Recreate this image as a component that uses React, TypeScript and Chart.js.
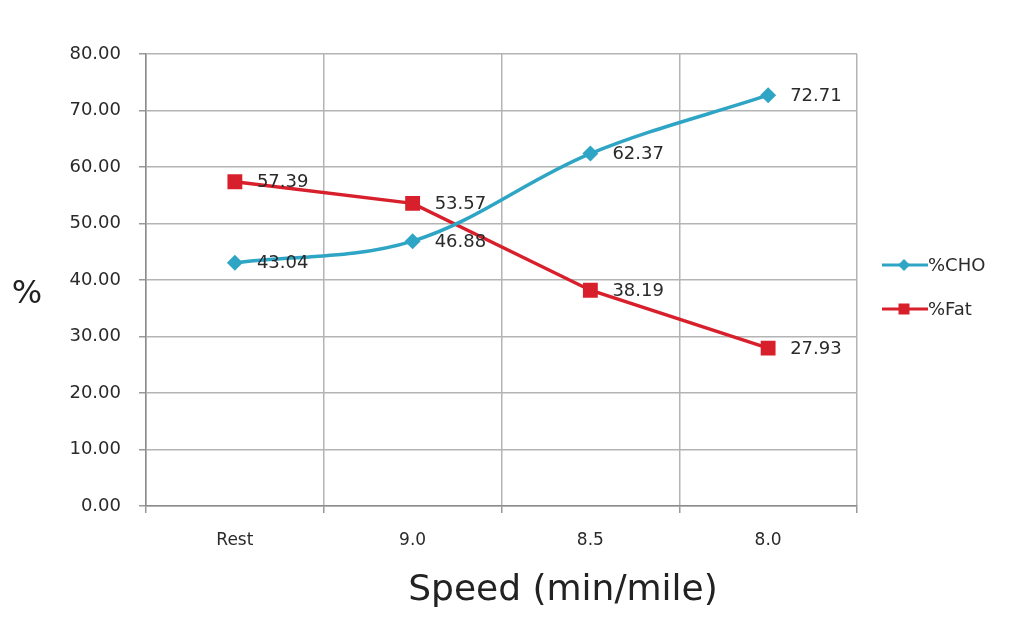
import React, { useEffect, useRef } from "react";
import { Chart, registerables } from "chart.js";

Chart.register(...registerables);

const categories = ["Rest", "9.0", "8.5", "8.0"];
const choValues = [43.04, 46.88, 62.37, 72.71];
const fatValues = [57.39, 53.57, 38.19, 27.93];
const seriesNames = ["%CHO", "%Fat"];
const yTitle = "%";
const xTitle = "Speed (min/mile)";

const CHO_COLOR = "#2fa5c5";
const FAT_COLOR = "#d8202c";
const FONT = "'DejaVu Sans', sans-serif";

export default function App() {
  const ref = useRef<HTMLCanvasElement | null>(null);

  useEffect(() => {
    const canvas = ref.current;
    if (!canvas) return;

    const labelsPlugin = {
      id: "customText",
      afterDatasetsDraw(chart: any) {
        const ctx = chart.ctx as CanvasRenderingContext2D;
        ctx.save();
        ctx.font = `18px ${FONT}`;
        ctx.fillStyle = "#2a2a2a";
        ctx.textAlign = "left";
        ctx.textBaseline = "middle";
        chart.data.datasets.forEach((ds: any, i: number) => {
          const meta = chart.getDatasetMeta(i);
          meta.data.forEach((pt: any, j: number) => {
            const v = ds.data[j] as number;
            ctx.fillText(v.toFixed(2), pt.x + 22, pt.y + 1);
          });
        });
        ctx.restore();
      },
      afterDraw(chart: any) {
        const ctx = chart.ctx as CanvasRenderingContext2D;
        ctx.save();
        ctx.fillStyle = "#222222";
        ctx.textAlign = "center";
        ctx.textBaseline = "middle";
        ctx.font = `32px ${FONT}`;
        ctx.fillText(yTitle, 27, 295);
        ctx.font = `36px ${FONT}`;
        ctx.fillText(xTitle, 563, 591);

        const entries = [
          { name: seriesNames[0], color: CHO_COLOR, style: "diamond", y: 265 },
          { name: seriesNames[1], color: FAT_COLOR, style: "square", y: 309 },
        ];
        entries.forEach((e) => {
          ctx.strokeStyle = e.color;
          ctx.lineWidth = 3;
          ctx.beginPath();
          ctx.moveTo(882, e.y);
          ctx.lineTo(928, e.y);
          ctx.stroke();
          ctx.fillStyle = e.color;
          ctx.beginPath();
          if (e.style === "diamond") {
            ctx.moveTo(904, e.y - 6);
            ctx.lineTo(910, e.y);
            ctx.lineTo(904, e.y + 6);
            ctx.lineTo(898, e.y);
            ctx.closePath();
          } else {
            ctx.rect(898.5, e.y - 5.5, 11, 11);
          }
          ctx.fill();
          ctx.fillStyle = "#2a2a2a";
          ctx.font = `18px ${FONT}`;
          ctx.textAlign = "left";
          ctx.fillText(e.name, 928, e.y + 1);
        });
        ctx.restore();
      },
    };

    const chart = new Chart(canvas, {
      type: "line",
      data: {
        labels: categories,
        datasets: [
          {
            label: seriesNames[0],
            data: choValues,
            borderColor: CHO_COLOR,
            backgroundColor: CHO_COLOR,
            borderWidth: 3.5,
            tension: 0.35,
            pointStyle: "rectRot",
            pointRadius: 8,
            pointBorderWidth: 0,
          },
          {
            label: seriesNames[1],
            data: fatValues,
            borderColor: FAT_COLOR,
            backgroundColor: FAT_COLOR,
            borderWidth: 3.5,
            tension: 0,
            pointStyle: "rect",
            pointRadius: 10.5,
            pointBorderWidth: 0,
          },
        ],
      },
      options: {
        animation: false,
        responsive: false,
        maintainAspectRatio: false,
        layout: { padding: { top: 54, right: 167, bottom: 0, left: 0 } },
        plugins: {
          legend: { display: false },
          tooltip: { enabled: false },
          title: { display: false },
        },
        scales: {
          x: {
            type: "category",
            offset: true,
            grid: {
              offset: true,
              color: "#b4b4b4",
              lineWidth: 1.5,
              tickLength: 7,
              tickColor: "#999999",
            },
            border: { color: "#8c8c8c", width: 1.5 },
            ticks: {
              color: "#2a2a2a",
              font: { family: FONT, size: 17 },
              padding: 17,
              maxRotation: 0,
            },
            afterFit(scale: any) {
              scale.height = 127;
            },
          },
          y: {
            min: 0,
            max: 80,
            grid: {
              color: "#b4b4b4",
              lineWidth: 1.5,
              tickLength: 7,
              tickColor: "#999999",
            },
            border: { color: "#8c8c8c", width: 1.5 },
            ticks: {
              stepSize: 10,
              color: "#2a2a2a",
              font: { family: FONT, size: 18 },
              padding: 18,
              callback: (v: any) => Number(v).toFixed(2),
            },
            afterFit(scale: any) {
              scale.width = 146;
            },
          },
        },
      },
      plugins: [labelsPlugin],
    });

    return () => chart.destroy();
  }, []);

  return (
    <div style={{ position: "absolute", left: 0, top: 0, width: 1024, height: 633, background: "#ffffff" }}>
      <canvas ref={ref} width={1024} height={633} style={{ display: "block" }} />
    </div>
  );
}
